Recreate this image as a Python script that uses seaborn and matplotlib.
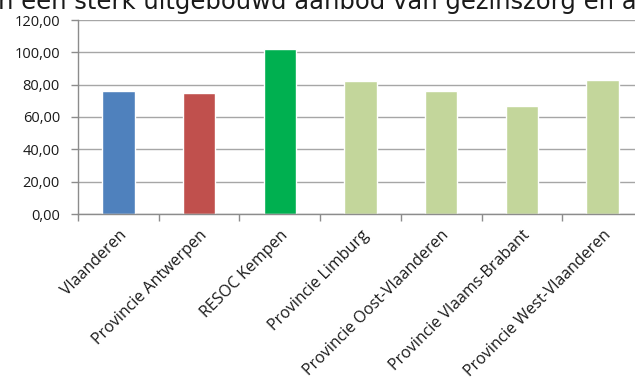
import matplotlib
matplotlib.use("Agg")
import matplotlib.pyplot as plt
import matplotlib.transforms as mtransforms
import seaborn as sns
from matplotlib.ticker import FixedLocator, FuncFormatter

# data
categories = [
    "Vlaanderen",
    "Provincie Antwerpen",
    "RESOC Kempen",
    "Provincie Limburg",
    "Provincie Oost-Vlaanderen",
    "Provincie Vlaams-Brabant",
    "Provincie West-Vlaanderen",
]
values = [76.0, 75.0, 101.8, 82.0, 76.0, 66.8, 82.6]
bar_colors = ["#4F81BD", "#C0504D", "#00B050", "#C3D69B", "#C3D69B", "#C3D69B", "#C3D69B"]
y_ticks = [0, 20, 40, 60, 80, 100, 120]

sns.set_style("white")
plt.rcParams["font.family"] = ["Open Sans", "DejaVu Sans"]

fig = plt.figure(figsize=(6.35, 3.79), dpi=100)
ax = fig.add_axes([78 / 635, 1 - 214 / 379, 565 / 635, 194 / 379])

sns.barplot(x=categories, y=values, hue=categories, palette=bar_colors,
            width=0.4, legend=False, saturation=1, ax=ax)

# cut-off line of body text above the chart
fig.text(-2 / 635, 1 - 9.5 / 379, "n een sterk uitgebouwd aanbod van gezinszorg en a",
         fontsize=17.5, family="DejaVu Sans", color="#1a1a1a", va="baseline", ha="left")

ax.set_ylim(0, 120)
ax.set_xlim(-0.5, 6.5)
ax.set_yticks(y_ticks)
ax.yaxis.set_major_formatter(FuncFormatter(lambda v, p: f"{v:.2f}".replace(".", ",")))
ax.grid(axis="y", color="#a6a6a6", linewidth=1)
ax.set_axisbelow(True)

ax.set_xticks(range(len(categories)))
ax.set_xticklabels(categories, rotation=45, ha="right", va="top", rotation_mode="anchor")
shift = mtransforms.ScaledTranslation(-2 / 100, 0, fig.dpi_scale_trans)
for lbl in ax.get_xticklabels():
    lbl.set_transform(lbl.get_transform() + shift)
ax.xaxis.set_minor_locator(FixedLocator([i - 0.5 for i in range(len(categories) + 1)]))
ax.tick_params(axis="x", which="major", length=0, pad=9.5, labelsize=11.5, labelcolor="#1a1a1a")
ax.tick_params(axis="x", which="minor", length=5, color="#8c8c8c", width=1, bottom=True)
ax.tick_params(axis="y", length=5, color="#8c8c8c", width=1, left=True, labelsize=10.5,
               labelcolor="#1a1a1a", pad=8)

for side in ["top", "right"]:
    ax.spines[side].set_visible(False)
for side in ["left", "bottom"]:
    ax.spines[side].set_color("#8c8c8c")
    ax.spines[side].set_linewidth(1)

ax.set_xlabel("")
ax.set_ylabel("")

fig.savefig("out.png", dpi=100)
